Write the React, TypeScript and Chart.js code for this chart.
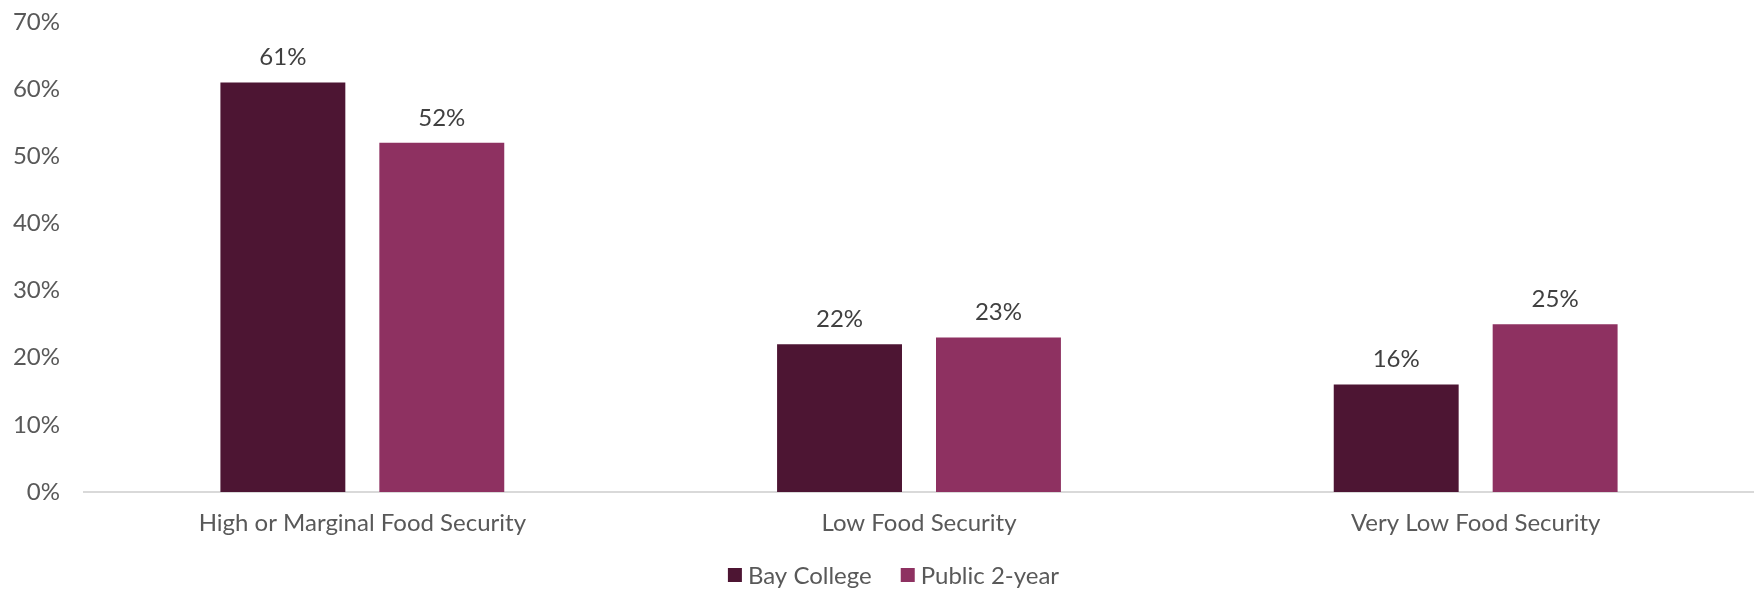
import React, { useEffect, useRef } from "react";
import { Chart, registerables } from "chart.js";

Chart.register(...registerables);

const categories = ["High or Marginal Food Security", "Low Food Security", "Very Low Food Security"];
const seriesNames = ["Bay College", "Public 2-year"];
const bayCollege = [61, 22, 16];
const public2Year = [52, 23, 25];
const yTickMax = 70;
const yTickStep = 10;

const COLORS = ["#4D1533", "#8E3161"];
const FONT = "Lato";
const SIZE = 24;

const dataLabelPlugin = {
  id: "dataLabels",
  afterDatasetsDraw(chart: any) {
    const ctx = chart.ctx;
    ctx.save();
    ctx.font = `${SIZE}px ${FONT}`;
    ctx.fillStyle = "#404040";
    ctx.textAlign = "center";
    ctx.textBaseline = "middle";
    chart.data.datasets.forEach((ds: any, i: number) => {
      const meta = chart.getDatasetMeta(i);
      meta.data.forEach((bar: any, j: number) => {
        ctx.fillText(`${ds.data[j]}%`, bar.x, bar.y - 25);
      });
    });
    ctx.restore();
  },
};

const legendPlugin = {
  id: "customLegend",
  afterDraw(chart: any) {
    const ctx = chart.ctx;
    ctx.save();
    ctx.font = `${SIZE}px ${FONT}`;
    ctx.textBaseline = "middle";
    ctx.textAlign = "left";
    const box = 14;
    const gap = 6;
    const spacing = 29;
    const widths = seriesNames.map((n) => ctx.measureText(n).width);
    const total = widths.reduce((a, w) => a + box + gap + w, 0) + spacing * (seriesNames.length - 1);
    let x = 893.5 - total / 2;
    const y = 575;
    seriesNames.forEach((n, i) => {
      ctx.fillStyle = COLORS[i];
      ctx.fillRect(x, y - box / 2, box, box);
      ctx.fillStyle = "#595959";
      ctx.fillText(n, x + box + gap, y + 1);
      x += box + gap + widths[i] + spacing;
    });
    ctx.restore();
  },
};

export default function App() {
  const ref = useRef<HTMLCanvasElement>(null);
  useEffect(() => {
    if (!ref.current) return;
    const chart = new Chart(ref.current, {
      type: "bar",
      data: {
        labels: categories,
        datasets: [
          { label: seriesNames[0], data: bayCollege, backgroundColor: COLORS[0], barPercentage: 0.786, categoryPercentage: 0.571 },
          { label: seriesNames[1], data: public2Year, backgroundColor: COLORS[1], barPercentage: 0.786, categoryPercentage: 0.571 },
        ],
      },
      options: {
        responsive: false,
        animation: false,
        layout: { padding: { top: 22, right: 0, left: 0, bottom: 0 } },
        plugins: { legend: { display: false }, tooltip: { enabled: false } },
        scales: {
          y: {
            min: 0,
            max: yTickMax,
            ticks: {
              stepSize: yTickStep,
              callback: (v: any) => `${v}%`,
              font: { family: FONT, size: SIZE },
              color: "#595959",
              padding: 24,
            },
            grid: { display: false, drawTicks: false },
            border: { display: false },
            afterFit: (s: any) => {
              s.width = 84;
              s.paddingTop = 0;
              s.paddingBottom = 0;
            },
          },
          x: {
            ticks: {
              font: { family: FONT, size: SIZE },
              color: "#595959",
              padding: 17,
              maxRotation: 0,
            },
            grid: { display: false, drawTicks: false },
            border: { display: true, color: "#D9D9D9", width: 2 },
            afterFit: (s: any) => {
              s.height = 97;
            },
          },
        },
      },
      plugins: [dataLabelPlugin, legendPlugin],
    });
    return () => chart.destroy();
  }, []);
  return (
    <div style={{ position: "fixed", left: 0, top: 0, width: 1754, height: 589, background: "#fff" }}>
      <canvas ref={ref} width={1754} height={589} style={{ width: 1754, height: 589, display: "block" }} />
    </div>
  );
}
